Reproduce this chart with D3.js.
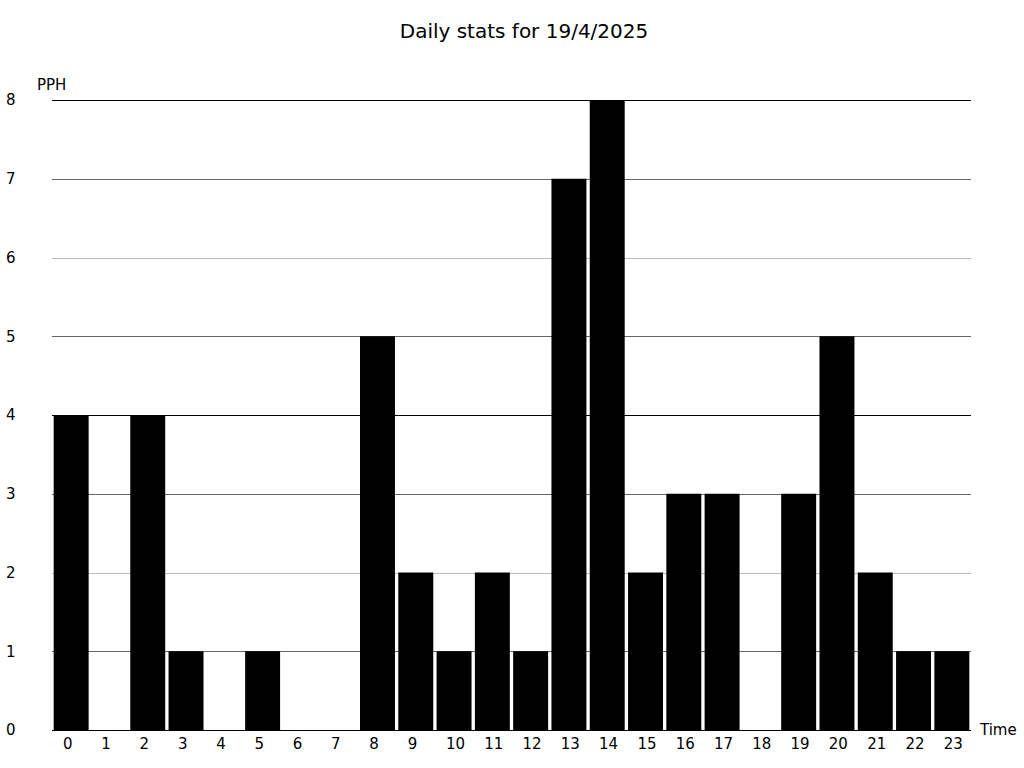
<!DOCTYPE html>
<html><head><meta charset="utf-8">
<script src="https://cdn.jsdelivr.net/npm/d3@7"></script>
<style>body{margin:0;background:#fff}svg{display:block;font-family:"DejaVu Sans",sans-serif}</style>
</head><body>
<script>
const title = "Daily stats for 19/4/2025";
const hours = ["0","1","2","3","4","5","6","7","8","9","10","11","12","13","14","15","16","17","18","19","20","21","22","23"];
const pph = [4,0,4,1,0,1,0,0,5,2,1,2,1,7,8,2,3,3,0,3,5,2,1,1];
const yTicks = [0,1,2,3,4,5,6,7,8];

(function(){
const W = 1024, H = 768;
const mLeft = 52, mRight = 971, mTop = 100, mBottom = 730;
const svg = d3.select("body").append("svg").attr("width", W).attr("height", H);

const xb = d3.scaleBand().domain(hours).range([mLeft, mRight]);
const x = d3.scaleBand().domain(hours).range([mLeft, mRight]).paddingInner(0.087).paddingOuter(0.044);
const y = d3.scaleLinear().domain([0, 8]).range([mBottom, mTop]);

function gridColor(v){ if (v % 4 === 0) return "#000"; if (v % 2 === 1) return "#666"; return "#bbb"; }

svg.append("g").selectAll("line").data(yTicks.filter(v => v > 0)).join("line")
  .attr("x1", mLeft).attr("x2", mRight)
  .attr("y1", d => Math.round(y(d)) + 0.5).attr("y2", d => Math.round(y(d)) + 0.5)
  .attr("stroke", d => gridColor(d)).attr("stroke-width", 1);

svg.append("g").selectAll("rect").data(pph).join("rect")
  .attr("x", (d, i) => x(hours[i]))
  .attr("width", x.bandwidth())
  .attr("y", d => y(d))
  .attr("height", d => y(0) - y(d))
  .attr("fill", "#000");

svg.append("line").attr("x1", mLeft).attr("x2", mRight)
  .attr("y1", mBottom + 0.5).attr("y2", mBottom + 0.5).attr("stroke", "#000");

svg.append("g").selectAll("text").data(yTicks).join("text")
  .attr("x", 6).attr("y", d => y(d)).attr("dy", "0.35em")
  .attr("text-anchor", "start").attr("font-size", 15).text(d => d);

svg.append("g").selectAll("text").data(hours).join("text")
  .attr("x", d => xb(d) + 11).attr("y", 749)
  .attr("text-anchor", "start").attr("font-size", 15).text(d => d);

svg.append("text").attr("x", 37).attr("y", 85).attr("dy", "0.35em")
  .attr("font-size", 15).text("PPH");
svg.append("text").attr("x", 980).attr("y", 730).attr("dy", "0.35em")
  .attr("font-size", 15).text("Time");
svg.append("text").attr("x", 524).attr("y", 31).attr("dy", "0.35em")
  .attr("text-anchor", "middle").attr("font-size", 20).text(title);
})();
</script>
</body></html>
